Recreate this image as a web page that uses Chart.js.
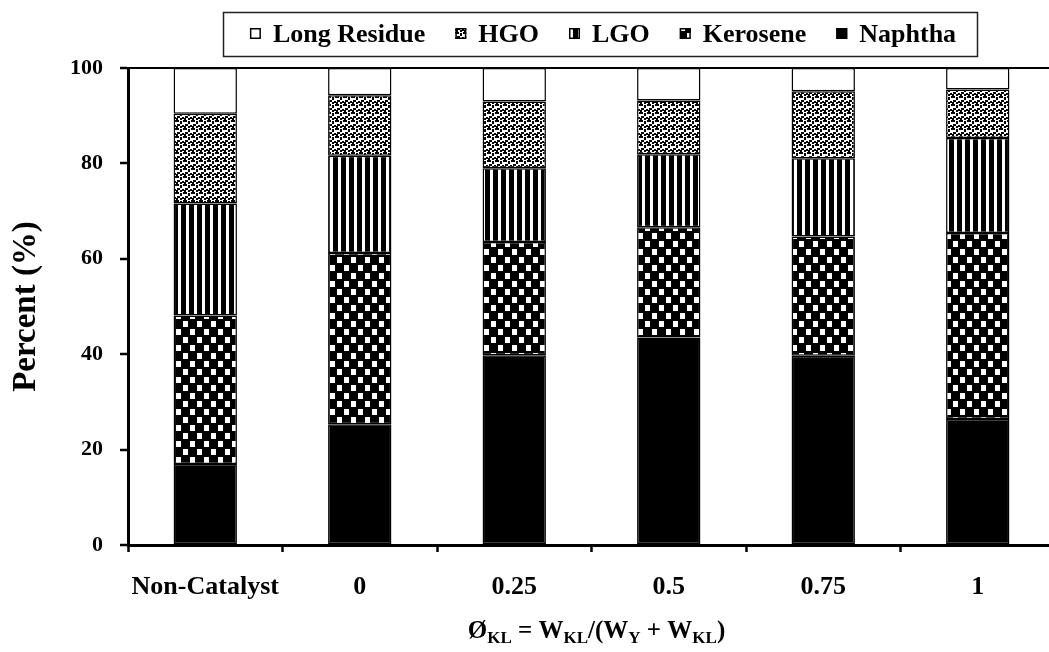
<!DOCTYPE html>
<html>
<head>
<meta charset="utf-8">
<script src="https://cdn.jsdelivr.net/npm/chart.js@4.4.1/dist/chart.umd.min.js"></script>
<style>
    html, body { margin: 0; padding: 0; background: #fff; overflow: hidden; }
    canvas { display: block; }
</style>
</head>
<body>
<canvas id="graficaProductos" width="1100" height="652"></canvas>
<script>
// Datos: porcentaje de cada fracción por catalizador
const categorias = ['Non-Catalyst', '0', '0.25', '0.5', '0.75', '1'];
const naphtha = [17.0, 25.3, 39.8, 43.5, 39.7, 26.4];
const kerosene = [31.1, 35.9, 23.7, 23.1, 25.0, 39.0];
const lgo = [23.5, 20.4, 15.5, 15.3, 16.4, 19.9];
const hgo = [18.8, 12.7, 14.0, 11.3, 14.0, 10.2];
const longResidue = [9.6, 5.7, 7.0, 6.8, 4.9, 4.5];
const ticksY = [0, 20, 40, 60, 80, 100];

const FUENTE = '"Liberation Serif", "Times New Roman", serif';

/* 1. PATRONES DE RELLENO */
function crearPatron(ancho, alto, dibujar) {
    const c = document.createElement('canvas');
    c.width = ancho;
    c.height = alto;
    const g = c.getContext('2d');
    dibujar(g);
    return g.createPattern(c, 'repeat');
}

// cuadros blancos sobre negro
const patronDamero = crearPatron(14, 16, g => {
    g.fillStyle = '#000';
    g.fillRect(0, 0, 14, 16);
    g.fillStyle = '#fff';
    g.fillRect(1, 1, 5, 6);
    g.fillRect(8, 9, 5, 6);
});

// rayas verticales
const patronRayas = crearPatron(8, 8, g => {
    g.fillStyle = '#000';
    g.fillRect(0, 0, 8, 8);
    g.fillStyle = '#fff';
    g.fillRect(2, 0, 3, 8);
});

// confeti negro sobre blanco
const patronConfeti = crearPatron(8, 8, g => {
    g.fillStyle = '#fff';
    g.fillRect(0, 0, 8, 8);
    g.fillStyle = '#000';
    [[0, 0, 3, 2], [4, 1, 2, 3], [1, 4, 3, 2], [6, 5, 2, 2], [0, 6, 2, 2], [4, 6, 2, 2], [7, 0, 1, 2]]
        .forEach(r => g.fillRect(r[0], r[1], r[2], r[3]));
});

function serie(nombre, valores, relleno) {
    return {
        label: nombre,
        data: valores,
        backgroundColor: relleno,
        borderColor: '#000',
        borderWidth: 1.5,
        borderSkipped: false,
        barPercentage: 0.41,
        categoryPercentage: 1
    };
}

/* 2. LEYENDA CON RECUADRO */
const leyendaCaja = {
    id: 'leyendaCaja',
    afterDraw(chart) {
        const ctx = chart.ctx;
        const items = chart.data.datasets.slice().reverse();
        const lado = 11, sepIcono = 12, sepItem = 30;
        ctx.save();
        ctx.font = 'bold 26px ' + FUENTE;
        const anchos = items.map(d => ctx.measureText(d.label).width);
        const total = anchos.reduce((a, b) => a + b, 0) + items.length * (lado + sepIcono) + (items.length - 1) * sepItem;

        ctx.lineWidth = 1.5;
        ctx.strokeStyle = '#222';
        ctx.strokeRect(223.5, 12.5, 754, 44);

        let x = 603 - total / 2;
        items.forEach((d, i) => {
            ctx.fillStyle = d.backgroundColor;
            ctx.fillRect(x, 28, lado, lado);
            ctx.strokeStyle = '#000';
            ctx.lineWidth = 1.5;
            ctx.strokeRect(x + 0.75, 28.75, lado - 1.5, lado - 1.5);
            x += lado + sepIcono;
            ctx.fillStyle = '#000';
            ctx.textBaseline = 'alphabetic';
            ctx.fillText(d.label, x, 42);
            x += anchos[i] + sepItem;
        });
        ctx.restore();
    }
};

/* 3. TÍTULO DEL EJE X CON SUBÍNDICES */
const tituloEjeX = {
    id: 'tituloEjeX',
    afterDraw(chart) {
        const ctx = chart.ctx;
        const partes = [
            ['Ø', false], ['KL', true], [' = W', false], ['KL', true], ['/(W', false],
            ['Y', true], [' + W', false], ['KL', true], [')', false]
        ];
        const normal = 'bold 25px ' + FUENTE;
        const sub = 'bold 17px ' + FUENTE;
        ctx.save();
        let total = 0;
        partes.forEach(p => {
            ctx.font = p[1] ? sub : normal;
            total += ctx.measureText(p[0]).width;
        });
        const area = chart.chartArea;
        let x = (area.left + area.right) / 2 + 5 - total / 2;
        const base = 638;
        ctx.fillStyle = '#000';
        ctx.textBaseline = 'alphabetic';
        partes.forEach(p => {
            ctx.font = p[1] ? sub : normal;
            ctx.fillText(p[0], x, p[1] ? base + 5 : base);
            x += ctx.measureText(p[0]).width;
        });
        ctx.restore();
    }
};

/* 4. GRÁFICA */
new Chart(document.getElementById('graficaProductos'), {
    type: 'bar',
    data: {
        labels: categorias,
        datasets: [
            serie('Naphtha', naphtha, '#000'),
            serie('Kerosene', kerosene, patronDamero),
            serie('LGO', lgo, patronRayas),
            serie('HGO', hgo, patronConfeti),
            serie('Long Residue', longResidue, '#fff')
        ]
    },
    options: {
        responsive: false,
        animation: false,
        layout: { padding: { top: 68, right: 45, left: 0, bottom: 0 } },
        plugins: {
            legend: { display: false },
            tooltip: { enabled: false }
        },
        scales: {
            x: {
                stacked: true,
                afterFit: s => { s.height = 107; },
                border: { display: true, color: '#000', width: 3 },
                grid: {
                    offset: true,
                    drawOnChartArea: false,
                    color: '#000',
                    tickColor: '#000',
                    tickLength: 7,
                    tickWidth: 2.5
                },
                ticks: {
                    color: '#000',
                    font: { family: FUENTE, size: 26, weight: 'bold' },
                    padding: 20,
                    maxRotation: 0,
                    autoSkip: false
                }
            },
            y: {
                stacked: true,
                min: 0,
                max: 100,
                afterFit: s => { s.width = 128; },
                afterBuildTicks: s => { s.ticks = ticksY.map(v => ({ value: v })); },
                border: { display: true, color: '#000', width: 3 },
                grid: {
                    color: c => (c.tick && c.tick.value === 100 ? '#000' : 'rgba(0,0,0,0)'),
                    lineWidth: 2,
                    tickColor: '#000',
                    tickLength: 8,
                    tickWidth: 2.5
                },
                ticks: {
                    color: '#000',
                    font: { family: FUENTE, size: 22, weight: 'bold' },
                    padding: 17
                },
                title: {
                    display: true,
                    text: 'Percent (%)',
                    color: '#000',
                    font: { family: FUENTE, size: 33, weight: 'bold' },
                    padding: { top: 7, bottom: 0 }
                }
            }
        }
    },
    plugins: [leyendaCaja, tituloEjeX]
});
</script>
</body>
</html>
